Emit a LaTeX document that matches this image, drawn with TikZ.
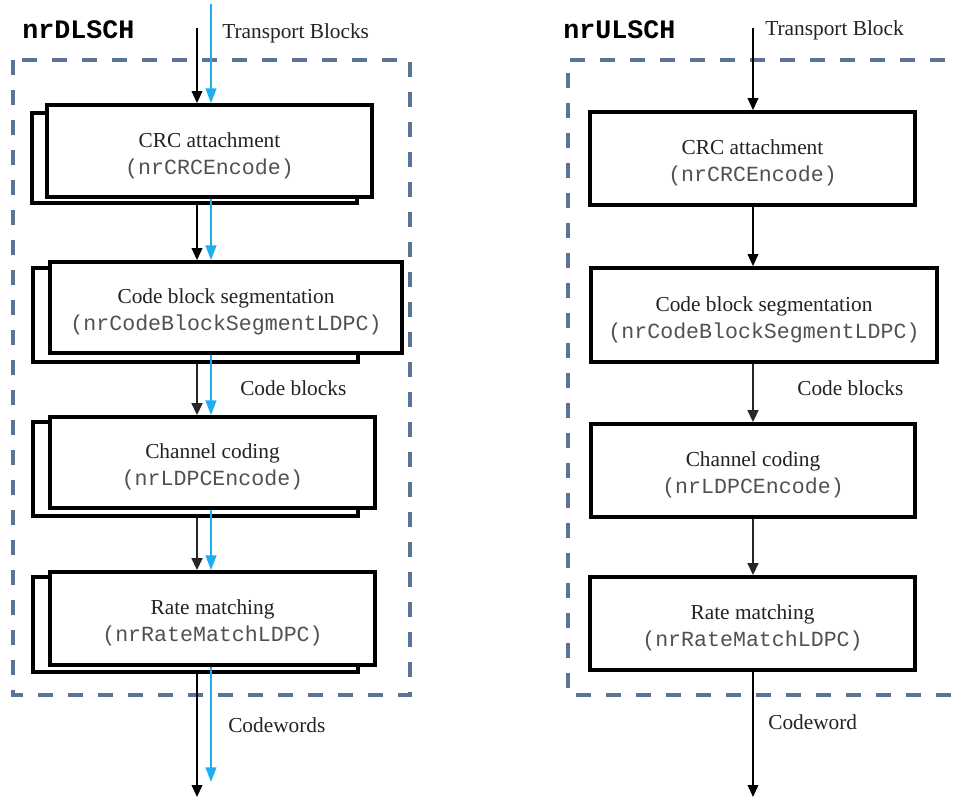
\documentclass[tikz,border=0pt]{standalone}
\usepackage{fontspec}
\setmainfont{Liberation Serif}
\setmonofont{Liberation Mono}
\usetikzlibrary{fit,arrows.meta}
\definecolor{dashcol}{HTML}{5B7396}
\definecolor{bluearr}{HTML}{1EAEF0}
\definecolor{monocol}{HTML}{555050}
\definecolor{txtcol}{HTML}{222222}
\tikzset{
  front/.style={draw=black, line width=2.8pt, fill=white, inner sep=0pt},
  back/.style={draw=black, line width=2.8pt, fill=white, inner sep=0pt},
  btxt/.style={align=center, inner sep=0pt, font=\fontsize{16}{20.5}\selectfont, text=txtcol},
  frame/.style={draw=dashcol, line width=2.8pt, dash pattern=on 11.5pt off 11pt},
  blk/.style={draw=black, line width=1.1pt, -{Triangle[width=8pt,length=9pt]}},
  blkthick/.style={draw=black!85, line width=2pt, -{Triangle[width=8pt,length=9pt]}},
  blu/.style={draw=bluearr, line width=1.5pt, -{Triangle[width=8pt,length=11pt]}},
  lbl/.style={anchor=west, font=\fontsize{16}{20}\selectfont, text=txtcol, inner sep=0pt},
  ttl/.style={anchor=west, font=\fontsize{20}{24}\selectfont\ttfamily\bfseries, inner sep=0pt},
}
\newcommand{\mono}[1]{{\fontsize{16.2}{20.5}\selectfont\ttfamily\color{monocol}#1}}
\begin{document}
\begin{tikzpicture}[x=0.75pt, y=-0.75pt]
\useasboundingbox (0,0) rectangle (957,798);
% ---------- left panel: nrDLSCH ----------
\draw[frame] (13,60) rectangle (410,695);
\node[ttl] (tdl) at (22,30) {nrDLSCH};
\node[lbl] (ltb) at (222,33) {Transport Blocks};
\coordinate (bl) at (197,0);
\coordinate (bb) at (211,0);
\coordinate (bltop) at (197,28);
\coordinate (bbtop) at (211,4);
\coordinate (blbot) at (197,797);
\coordinate (bbbot) at (211,782);

\node[back, fit={(32,113) (357,203)}] (crcB) {};
\node[front, fit={(47,105) (372,197)}] (crcF) {};
\node[btxt] (crcT) at ([yshift=-3.5pt]crcF.center) {CRC attachment\\\mono{(nrCRCEncode)}};
\node[back, fit={(33,268) (358,362)}] (segB) {};
\node[front, fit={(50,262) (402,353)}] (segF) {};
\node[btxt] (segT) at ([yshift=-3.5pt]segF.center) {Code block segmentation\\\mono{(nrCodeBlockSegmentLDPC)}};
\node[back, fit={(33,422) (358,516)}] (chB) {};
\node[front, fit={(50,417) (375,508)}] (chF) {};
\node[btxt] (chT) at ([yshift=-3.5pt]chF.center) {Channel coding\\\mono{(nrLDPCEncode)}};
\node[back, fit={(33,577) (358,672)}] (rmB) {};
\node[front, fit={(50,572) (375,665)}] (rmF) {};
\node[btxt] (rmT) at ([yshift=-3.5pt]rmF.center) {Rate matching\\\mono{(nrRateMatchLDPC)}};

\draw[blk] (bltop) -- (crcF.north -| bl);
\draw[blu] (bbtop) -- (crcF.north -| bb);
\draw[blk] (crcB.south -| bl) -- (segF.north -| bl);
\draw[blu] (crcF.south -| bb) -- (segF.north -| bb);
\draw[blkthick] (segB.south -| bl) -- (chF.north -| bl);
\draw[blu] (segF.south -| bb) -- (chF.north -| bb);
\draw[blkthick] (chB.south -| bl) -- (rmF.north -| bl);
\draw[blu] (chF.south -| bb) -- (rmF.north -| bb);
\draw[blk] (rmB.south -| bl) -- (blbot);
\draw[blu] (rmF.south -| bb) -- (bbbot);
\node[lbl] (lcb) at (240,388) {Code blocks};
\node[lbl] (lcw) at (228,725) {Codewords};

% ---------- right panel: nrULSCH ----------
\draw[frame] (975,60) -- (568,60) -- (568,695) -- (975,695);
\node[ttl] (tul) at (563,30) {nrULSCH};
\node[lbl] (rtb) at (765,30) {Transport Block};
\coordinate (rl) at (753,0);
\coordinate (rltop) at (753,28);
\coordinate (rlbot) at (753,797);
\node[front, fit={(590,112) (915,205)}] (rcrc) {};
\node[btxt] (rcrcT) at ([yshift=-3.5pt]rcrc.center) {CRC attachment\\\mono{(nrCRCEncode)}};
\node[front, fit={(591,268) (937,362)}] (rseg) {};
\node[btxt] (rsegT) at ([yshift=-3.5pt]rseg.center) {Code block segmentation\\\mono{(nrCodeBlockSegmentLDPC)}};
\node[front, fit={(591,424) (915,517)}] (rch) {};
\node[btxt] (rchT) at ([yshift=-3.5pt]rch.center) {Channel coding\\\mono{(nrLDPCEncode)}};
\node[front, fit={(590,577) (915,670)}] (rrm) {};
\node[btxt] (rrmT) at ([yshift=-3.5pt]rrm.center) {Rate matching\\\mono{(nrRateMatchLDPC)}};
\draw[blk] (rltop) -- (rcrc.north -| rl);
\draw[blk] (rcrc.south -| rl) -- (rseg.north -| rl);
\draw[blkthick] (rseg.south -| rl) -- (rch.north -| rl);
\draw[blkthick] (rch.south -| rl) -- (rrm.north -| rl);
\draw[blk] (rrm.south -| rl) -- (rlbot);
\node[lbl] (rcb) at (797,388) {Code blocks};
\node[lbl] (rcw) at (768,722) {Codeword};
\end{tikzpicture}
\end{document}
